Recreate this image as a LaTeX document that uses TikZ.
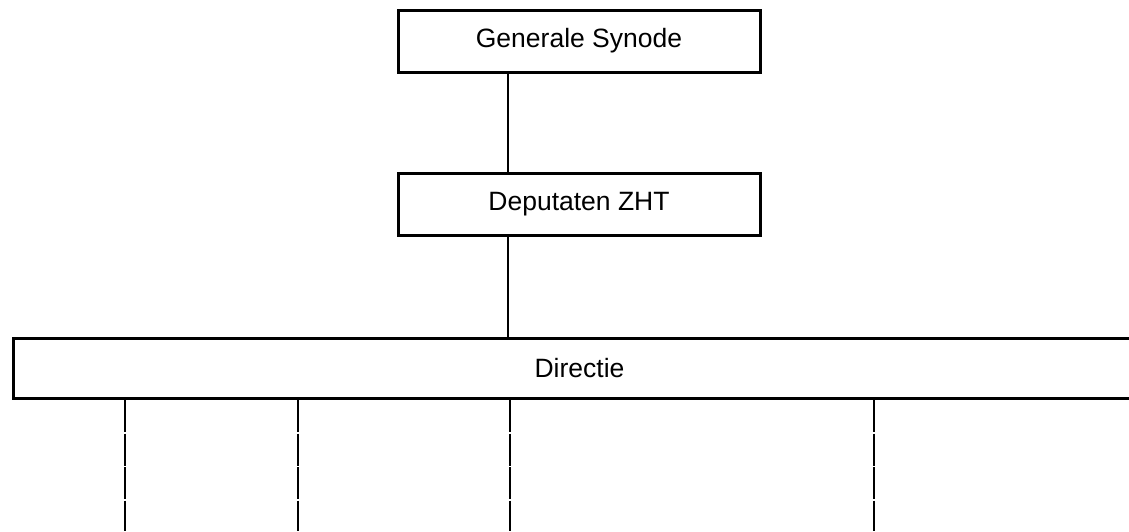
\documentclass[tikz,border=0pt]{standalone}
\usepackage{fontspec}
\setmainfont{Liberation Sans}
\begin{document}
\begin{tikzpicture}[x=1pt,y=-1pt,
  orgbox/.style={draw=black,line width=3pt,inner sep=0pt,minimum height=62pt,
    font=\fontsize{26.5}{32}\selectfont,text=black},
  conn/.style={draw=black,line width=1.5pt},
  sub/.style={draw=black,line width=2pt,dash pattern=on 32pt off 1.5pt}]
\useasboundingbox (0,0) rectangle (1129,531);
\begin{scope}
\clip (0,0) rectangle (1129,531);
\node[orgbox,minimum width=362pt] (gs) at (579,41) {Generale Synode};
\node[orgbox,minimum width=362pt] (dep) at (579,204.5) {Deputaten ZHT};
\node[orgbox,minimum width=1132pt,minimum height=60pt] (dir) at (579.5,368.5) {Directie};
\coordinate (c1) at (508,0);
\draw[conn] (gs.south -| c1) -- (dep.north -| c1);
\draw[conn] (dep.south -| c1) -- (dir.north -| c1);
\coordinate (b1) at (125,531);
\coordinate (b2) at (298,531);
\coordinate (b3) at (510,531);
\coordinate (b4) at (874,531);
\foreach \b in {b1,b2,b3,b4}{\draw[sub] (dir.south -| \b) -- (\b);}
\end{scope}
\end{tikzpicture}
\end{document}
